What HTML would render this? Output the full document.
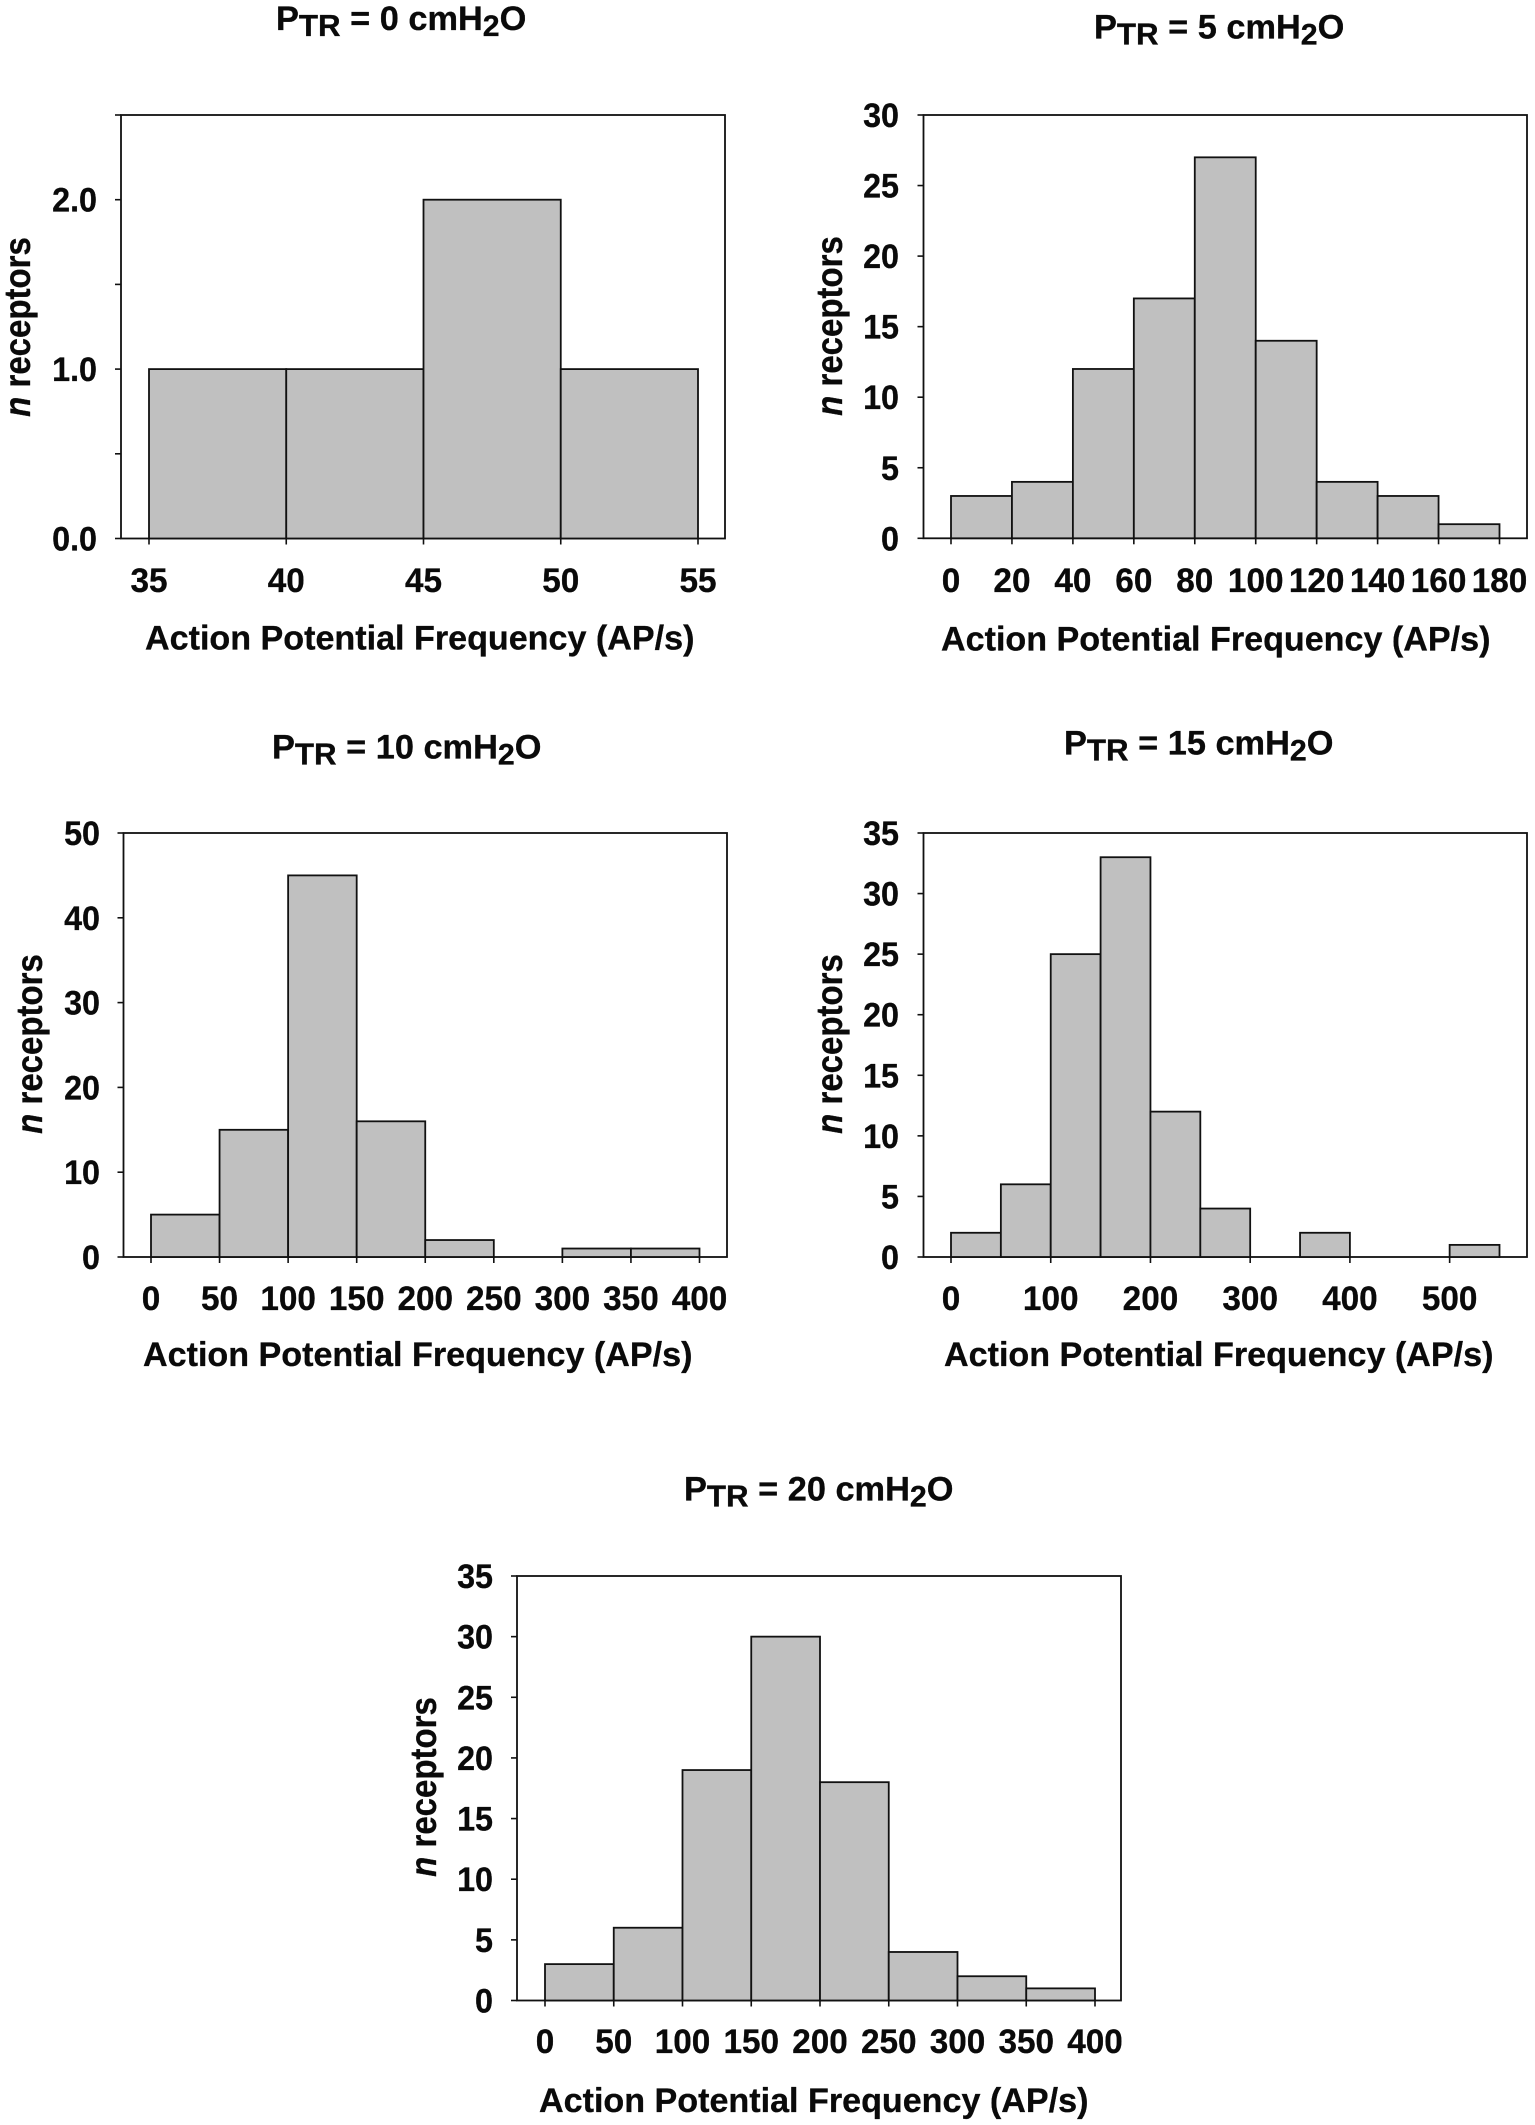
<!DOCTYPE html>
<html lang="en">
<head>
<meta charset="utf-8">
<title>Action potential frequency histograms</title>
<style>
html,body{margin:0;padding:0;background:#fff;}
svg{display:block;}
text{font-family:"Liberation Sans",Arial,sans-serif;font-weight:700;fill:#0a0a0a;stroke:#0a0a0a;stroke-width:0.3px;}
</style>
</head>
<body>
<svg id="figure" width="1535" height="2125" viewBox="0 0 1535 2125" xmlns="http://www.w3.org/2000/svg">
  <rect width="1535" height="2125" fill="#fff"/>

  <g id="panel-a">
    <text font-size="34" transform="translate(276,30) scale(1.01,1)">P<tspan font-size="31" dy="6">TR</tspan><tspan dy="-6"> = 0 cmH</tspan><tspan font-size="30" dy="6">2</tspan><tspan dy="-6">O</tspan></text>
    <text font-size="34" transform="translate(145,649.5) scale(1.003,1)">Action Potential Frequency (AP/s)</text>
    <text font-size="33" text-anchor="middle" transform="translate(30,327) rotate(-90) scale(1,1.12)"><tspan font-style="italic">n</tspan> receptors</text>
  </g>
  <g id="panel-b">
    <text font-size="34" transform="translate(1094,38.5) scale(1.01,1)">P<tspan font-size="31" dy="6">TR</tspan><tspan dy="-6"> = 5 cmH</tspan><tspan font-size="30" dy="6">2</tspan><tspan dy="-6">O</tspan></text>
    <text font-size="34" transform="translate(941,650.7) scale(1.003,1)">Action Potential Frequency (AP/s)</text>
    <text font-size="33" text-anchor="middle" transform="translate(842,326) rotate(-90) scale(1,1.12)"><tspan font-style="italic">n</tspan> receptors</text>
  </g>
  <g id="panel-c">
    <text font-size="34" transform="translate(272,758.5) scale(1.01,1)">P<tspan font-size="31" dy="6">TR</tspan><tspan dy="-6"> = 10 cmH</tspan><tspan font-size="30" dy="6">2</tspan><tspan dy="-6">O</tspan></text>
    <text font-size="34" transform="translate(143,1366) scale(1.003,1)">Action Potential Frequency (AP/s)</text>
    <text font-size="33" text-anchor="middle" transform="translate(42,1044) rotate(-90) scale(1,1.12)"><tspan font-style="italic">n</tspan> receptors</text>
  </g>
  <g id="panel-d">
    <text font-size="34" transform="translate(1064,754.5) scale(1.01,1)">P<tspan font-size="31" dy="6">TR</tspan><tspan dy="-6"> = 15 cmH</tspan><tspan font-size="30" dy="6">2</tspan><tspan dy="-6">O</tspan></text>
    <text font-size="34" transform="translate(944,1366) scale(1.003,1)">Action Potential Frequency (AP/s)</text>
    <text font-size="33" text-anchor="middle" transform="translate(842,1044) rotate(-90) scale(1,1.12)"><tspan font-style="italic">n</tspan> receptors</text>
  </g>
  <g id="panel-e">
    <text font-size="34" transform="translate(684,1500.5) scale(1.01,1)">P<tspan font-size="31" dy="6">TR</tspan><tspan dy="-6"> = 20 cmH</tspan><tspan font-size="30" dy="6">2</tspan><tspan dy="-6">O</tspan></text>
    <text font-size="34" transform="translate(539,2112) scale(1.003,1)">Action Potential Frequency (AP/s)</text>
    <text font-size="33" text-anchor="middle" transform="translate(436,1787) rotate(-90) scale(1,1.12)"><tspan font-style="italic">n</tspan> receptors</text>
  </g>
</svg>
<script>
// Panel A: PTR = 0 cmH2O
const aBinStarts = [35, 40, 45, 50];
const aCounts = [1, 1, 2, 1];
const aXTicks = [35, 40, 45, 50, 55];
const aYTicks = [0, 0.5, 1, 1.5, 2, 2.5];
const aYLabels = ['0.0', '', '1.0', '', '2.0', ''];

// Panel B: PTR = 5 cmH2O
const bBinStarts = [0, 20, 40, 60, 80, 100, 120, 140, 160];
const bCounts = [3, 4, 12, 17, 27, 14, 4, 3, 1];
const bXTicks = [0, 20, 40, 60, 80, 100, 120, 140, 160, 180];
const bYTicks = [0, 5, 10, 15, 20, 25, 30];
const bYLabels = ['0', '5', '10', '15', '20', '25', '30'];

// Panel C: PTR = 10 cmH2O
const cBinStarts = [0, 50, 100, 150, 200, 300, 350];
const cCounts = [5, 15, 45, 16, 2, 1, 1];
const cXTicks = [0, 50, 100, 150, 200, 250, 300, 350, 400];
const cYTicks = [0, 10, 20, 30, 40, 50];
const cYLabels = ['0', '10', '20', '30', '40', '50'];

// Panel D: PTR = 15 cmH2O
const dBinStarts = [0, 50, 100, 150, 200, 250, 350, 500];
const dCounts = [2, 6, 25, 33, 12, 4, 2, 1];
const dXTicks = [0, 100, 200, 300, 400, 500];
const dYTicks = [0, 5, 10, 15, 20, 25, 30, 35];
const dYLabels = ['0', '5', '10', '15', '20', '25', '30', '35'];

// Panel E: PTR = 20 cmH2O
const eBinStarts = [0, 50, 100, 150, 200, 250, 300, 350];
const eCounts = [3, 6, 19, 30, 18, 4, 2, 1];
const eXTicks = [0, 50, 100, 150, 200, 250, 300, 350, 400];
const eYTicks = [0, 5, 10, 15, 20, 25, 30, 35];
const eYLabels = ['0', '5', '10', '15', '20', '25', '30', '35'];

const SVGNS = 'http://www.w3.org/2000/svg';

function make(tag, parent, attrs) {
  const el = document.createElementNS(SVGNS, tag);
  for (const k in attrs) el.setAttribute(k, attrs[k]);
  parent.appendChild(el);
  return el;
}

function drawPanel(cfg) {
  const g = document.getElementById(cfg.id);
  const sx = function (v) { return cfg.x0 + (v - cfg.xMin) / (cfg.xMax - cfg.xMin) * (cfg.x1 - cfg.x0); };
  const sy = function (v) { return cfg.bottom - (v - cfg.yMin) / (cfg.yMax - cfg.yMin) * (cfg.bottom - cfg.top); };

  const frame = make('rect', g, { x: cfg.left, y: cfg.top, width: cfg.right - cfg.left, height: cfg.bottom - cfg.top, fill: 'none', stroke: '#111', 'stroke-width': 1.8 });
  
  

  cfg.starts.forEach(function (s, i) {
    const bar = make('rect', g, {
      x: sx(s), y: sy(cfg.counts[i]),
      width: sx(s + cfg.binWidth) - sx(s),
      height: sy(0) - sy(cfg.counts[i]),
      fill: '#c0c0c0', stroke: '#111', 'stroke-width': 1.8
    });
    
    
  });

  cfg.xTicks.forEach(function (t) {
    const tick = make('line', g, { x1: sx(t), x2: sx(t), y1: cfg.bottom, y2: cfg.bottom + 6, stroke: '#111', 'stroke-width': 1.6 });
    
    
    const label = make('text', g, { 'font-size': 34, 'text-anchor': 'middle', transform: 'translate(' + sx(t) + ',' + cfg.xLabelY + ') scale(0.98,1)' });
    label.textContent = String(t);
    
    
  });

  cfg.yTicks.forEach(function (t, i) {
    const tick = make('line', g, { x1: cfg.left - 6, x2: cfg.left, y1: sy(t), y2: sy(t), stroke: '#111', 'stroke-width': 1.6 });
    
    
    if (cfg.yLabels[i]) {
      const label = make('text', g, { 'font-size': 34, 'text-anchor': 'end', transform: 'translate(' + cfg.yLabelX + ',' + (sy(t) + 12) + ') scale(0.95,1)' });
      label.textContent = cfg.yLabels[i];
      
      
    }
  });
}

drawPanel({ id: 'panel-a', left: 121, right: 725, top: 115, bottom: 538.5, x0: 149, x1: 698, xMin: 35, xMax: 55, yMin: 0, yMax: 2.5, binWidth: 5,
  starts: aBinStarts, counts: aCounts, xTicks: aXTicks, yTicks: aYTicks, yLabels: aYLabels, xLabelY: 592, yLabelX: 97 });
drawPanel({ id: 'panel-b', left: 923.5, right: 1527, top: 115, bottom: 538.3, x0: 951, x1: 1499.5, xMin: 0, xMax: 180, yMin: 0, yMax: 30, binWidth: 20,
  starts: bBinStarts, counts: bCounts, xTicks: bXTicks, yTicks: bYTicks, yLabels: bYLabels, xLabelY: 592, yLabelX: 899 });
drawPanel({ id: 'panel-c', left: 123.5, right: 727, top: 833, bottom: 1257, x0: 151, x1: 699.5, xMin: 0, xMax: 400, yMin: 0, yMax: 50, binWidth: 50,
  starts: cBinStarts, counts: cCounts, xTicks: cXTicks, yTicks: cYTicks, yLabels: cYLabels, xLabelY: 1310, yLabelX: 100 });
drawPanel({ id: 'panel-d', left: 923.5, right: 1527, top: 833, bottom: 1257, x0: 951, x1: 1499.5, xMin: 0, xMax: 550, yMin: 0, yMax: 35, binWidth: 50,
  starts: dBinStarts, counts: dCounts, xTicks: dXTicks, yTicks: dYTicks, yLabels: dYLabels, xLabelY: 1310, yLabelX: 899 });
drawPanel({ id: 'panel-e', left: 517, right: 1121, top: 1576, bottom: 2000.5, x0: 545, x1: 1095, xMin: 0, xMax: 400, yMin: 0, yMax: 35, binWidth: 50,
  starts: eBinStarts, counts: eCounts, xTicks: eXTicks, yTicks: eYTicks, yLabels: eYLabels, xLabelY: 2053, yLabelX: 493 });
</script>
</body>
</html>
